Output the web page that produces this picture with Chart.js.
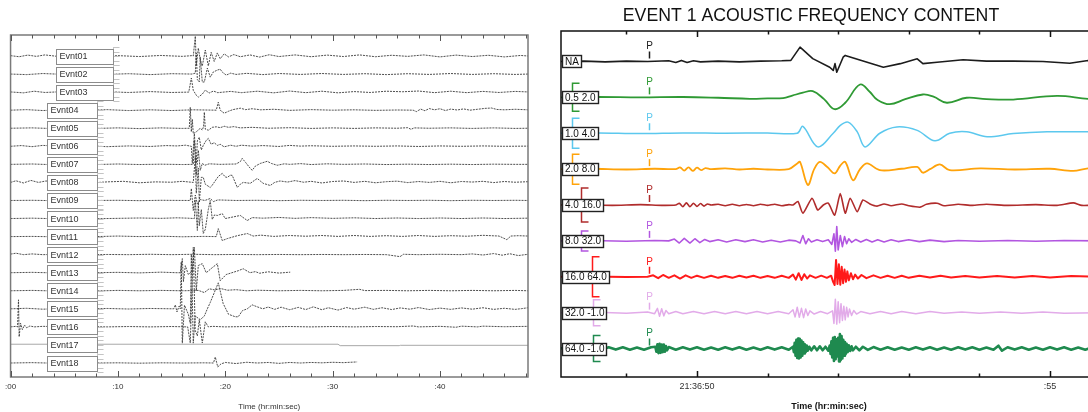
<!DOCTYPE html>
<html>
<head>
<meta charset="utf-8">
<script src="https://cdn.jsdelivr.net/npm/chart.js@4"></script>
<style>
html,body{margin:0;padding:0;background:#fff;overflow:hidden;width:1088px;height:412px;}
canvas{position:absolute;top:0;}
#c1{left:0;width:540px;height:412px;}
#c2{left:525px;width:572px;height:412px;}
</style>
</head>
<body>
<canvas id="c1" width="540" height="412"></canvas>
<canvas id="c2" width="572" height="412"></canvas>
<script>
// ---------------- LEFT PANEL DATA (time in s, amplitude: 10 = one trace spacing) ----------------
const leftNames = ['Evnt01','Evnt02','Evnt03','Evnt04','Evnt05','Evnt06','Evnt07','Evnt08','Evnt09','Evnt10','Evnt11','Evnt12','Evnt13','Evnt14','Evnt15','Evnt16','Evnt17','Evnt18'];
const leftTickValues = [0,10,20,30,40];
const leftTickText = [':00',':10',':20',':30',':40'];

const evnt01 = [[0,0.2],[0.8,-0.4],[1.6,0.5],[2.4,-0.2],[3.2,0.6],[4.5,-0.3],[6,0.3],[8,-0.4],[10,0.2],[12,-0.3],[14,0.3],[16,-0.2],[16.9,0.2],[17.02,0],[17.21,11],[17.3,-5.5],[17.49,4.4],[17.67,-2],[17.86,-5.5],[18.14,3.3],[18.42,-5.5],[18.69,2],[18.97,-3],[19.26,1.7],[19.53,-1.5],[19.9,1.2],[20.3,-0.5],[20.8,0.8],[21.4,-0.4],[22.3,0.6],[23.2,-0.6],[24.1,0.7],[25,-0.3],[26.5,0.6],[28,-0.4],[29.5,0.5],[31,-0.3],[32.5,0.6],[34,-0.4],[35.5,0.4],[37,-0.2],[38.5,0.6],[40,-0.5],[41.5,0.5],[43,-0.3],[44.5,0.4],[46,-0.5],[47.5,0.3],[48.2,0]];
const evnt02 = [[0,0],[1.5,-0.3],[3,0.3],[5,-0.2],[7,0.3],[9,-0.2],[11,0.2],[13,-0.3],[15,0.2],[16.9,0],[17.21,0.5],[17.3,11.6],[17.4,-3],[17.58,-4.4],[17.67,9.4],[17.86,-4.4],[18.05,-4.4],[18.33,3.3],[18.6,-1.7],[18.88,1.1],[19.26,2.2],[19.53,2.7],[19.72,1.1],[20.09,-0.6],[20.5,0.5],[21,-0.2],[22,0.4],[23.5,-0.3],[25,0.3],[27,-0.2],[29,0.3],[31,-0.2],[33,0.2],[35,-0.3],[37,0.2],[39,-0.2],[41,0.3],[43,-0.2],[45,0.2],[47,-0.2],[48.2,0]];
const evnt03 = [[0,0.1],[1.2,-0.4],[2.2,0.5],[3.2,-0.2],[5,0.3],[7,-0.3],[9,0.2],[11,-0.2],[13,0.3],[15,-0.2],[16.6,0],[16.84,7.8],[17.02,1],[17.3,-1.7],[17.49,-2.8],[17.86,-1.1],[18.14,1.1],[18.5,-0.5],[18.9,0.6],[19.3,-0.3],[20.5,0.4],[21.5,-0.3],[23,0.5],[24.5,-0.4],[26,0.6],[27.5,-0.3],[29,0.5],[30.5,-0.4],[32,0.3],[33.5,-0.2],[35,0.5],[36.5,0.2],[38,0.6],[39.5,-0.3],[41,0.5],[42.5,-0.3],[44,0.4],[45.5,-0.2],[47,0.4],[48.2,0.1]];
const evnt04 = [[0,0],[1.5,0.3],[3,-0.2],[5,0.2],[7,-0.2],[9,0.3],[11,-0.2],[13,0.2],[15,-0.2],[17,0.2],[19.16,0],[19.35,4.4],[19.53,0],[19.9,-1.7],[20.3,-0.6],[20.7,0.3],[21.4,1.1],[21.9,0.3],[22.5,0.8],[23.3,0.2],[24.5,0.5],[26,-0.1],[28,0.3],[30,0],[32,0.2],[34,-0.1],[36,0.1],[37.5,0],[37.8,-0.8],[38.2,0.6],[38.6,-0.3],[39,0.9],[39.5,0.2],[40,0.8],[40.5,-0.2],[41,0.6],[41.6,0.1],[42.2,0.7],[42.8,0],[43.5,0.5],[44.2,1.0],[44.8,1.2],[45.3,0.4],[46,0.2],[47,0.5],[48.2,0.2]];
const evnt05 = [[0,0],[2,0.2],[4,-0.2],[6,0.2],[8,-0.1],[10,0.2],[12,-0.2],[14,0.2],[16,-0.1],[16.65,0],[16.74,11.6],[16.84,-2],[16.93,5],[17.02,-3],[17.3,-2],[17.67,0],[17.86,-1],[17.98,1],[18.05,8.9],[18.14,-0.5],[18.42,-1.1],[18.79,0.5],[19.16,0.8],[19.53,0.3],[19.9,1.1],[20.3,0.5],[20.8,0.9],[21.4,0.2],[22.5,0.5],[24,0],[26,0.3],[28,-0.1],[30,0.2],[32,-0.1],[34,0.2],[36,0],[37,0.3],[37.3,-0.6],[37.6,0.2],[39,0],[41,0.2],[43,-0.1],[45,0.2],[47,-0.1],[48.2,0]];
const evnt06 = [[0,0],[1,0.4],[2,-0.2],[3,0.5],[5,-0.2],[7,0.3],[9,-0.2],[11,0.2],[13,-0.1],[14.5,0.4],[15.5,0.2],[16.3,0.6],[16.84,0],[16.93,-9.4],[17.12,7],[17.3,-9.4],[17.4,3],[17.58,5],[17.77,-2],[17.95,0.5],[18.23,3.3],[18.42,4.4],[18.69,1.1],[18.97,2],[19.26,0.5],[19.53,1.1],[19.9,-0.3],[20.5,0.6],[21,0],[21.5,0.6],[22.5,0.1],[23.5,0.4],[25,-0.1],[26,0.5],[27,0.1],[28,0.3],[30,0],[32,0.2],[34,0],[36,0.2],[38,-0.1],[40,0.2],[42,0],[44,0.2],[46,0],[48.2,0.1]];
const evnt07 = [[0,0],[2,0.2],[4,-0.2],[6,0.1],[8,-0.1],[10,0.2],[12,-0.1],[14,0.1],[16,-0.1],[17.02,0],[17.12,13.3],[17.3,-6],[17.49,7.8],[17.67,-3.3],[17.86,0.5],[18.1,-0.5],[18.5,0.3],[19.5,0],[21,0.2],[21.4,1.5],[21.58,3.3],[21.9,1],[22.3,-2],[22.51,-3.3],[22.8,-1],[23.26,0.5],[23.91,1.7],[24.3,0.5],[24.84,-0.5],[25.5,0.3],[26,0],[27,0.4],[28,-0.1],[29.5,0.3],[31,0],[33,0.2],[35,-0.1],[37,0.1],[39,-0.1],[41,0.1],[43,-0.1],[45,0.1],[47,0],[48.2,0]];
const evnt08 = [[0,0],[0.5,0.9],[1.2,-0.3],[1.9,1.1],[2.6,0],[3.3,0.8],[4.5,-0.2],[6,0.4],[7.5,-0.3],[9,0.3],[10.5,0.6],[12,-0.2],[13.5,0.3],[15,0.1],[16,0.6],[17.02,0],[17.21,14],[17.3,-6],[17.49,8],[17.58,-11],[17.77,2.8],[17.95,2.8],[18.14,-1],[18.6,-2.8],[18.79,-1.5],[19.35,3.3],[19.72,5],[20,3],[20.19,2.8],[20.47,4],[20.65,3.9],[21.12,-2.8],[21.4,-1],[21.67,0],[22.33,-0.5],[22.98,2.2],[23.3,0.6],[23.53,-0.5],[24.19,-1.7],[24.6,0],[25.1,0.8],[25.8,0.2],[26.5,1.0],[27.3,0.1],[28,0.6],[29,-0.3],[30,0.5],[31,0.8],[32,0],[33,0.6],[34,-0.2],[35,0.4],[36,0.7],[37,-0.1],[38,0.5],[39,0],[40,0.6],[41,-0.2],[42,0.5],[43,0.2],[44,0.6],[45,-0.1],[46,0.5],[47,0.1],[48.2,0.4]];
const evnt09 = [[0,0],[2,0.1],[4,-0.1],[6,0.1],[8,0],[10,0.1],[12,-0.1],[14,0.1],[16.5,0],[16.74,0],[16.84,6.6],[17.02,-5.5],[17.21,3],[17.4,-2],[17.67,0.5],[18.1,0],[18.6,1.1],[18.9,-0.6],[19.3,0.3],[21,0],[23,0.1],[25,-0.1],[27,0.1],[29,0],[31,0.1],[33,-0.1],[35,0.1],[37,0],[39,0.1],[41,-0.1],[43,0.1],[45,0],[47,0.1],[48.2,0]];
const evnt10 = [[0,0],[2,0.2],[4,-0.1],[6,0.2],[8,-0.1],[10,0.1],[12,0.3],[14,0.1],[15.5,0.4],[16.5,0.2],[17.12,0],[17.21,10],[17.4,-6.6],[17.49,9],[17.58,-4],[17.77,5],[17.95,-8.3],[18.14,-6],[18.42,5],[18.6,10],[18.79,-0.5],[19.0,2],[19.26,1.7],[19.72,2.7],[20,0],[20.5,0.6],[21.4,1.7],[22.05,-1.1],[22.5,0.5],[23.5,0.2],[25,0.6],[26.5,0.1],[28,0.5],[30,0.1],[32,0.4],[34,0],[36,0.3],[38,0],[40,0.3],[42,0],[44,0.3],[46,0],[48.2,0.2]];
const evnt11 = [[0,0],[2,0.1],[4,-0.1],[6,0.1],[8,0],[10,0.3],[12,0],[14,0.2],[16,-0.1],[18,0.1],[19.16,0],[19.35,4.4],[19.72,-2.2],[20.19,-1.1],[21.12,0.5],[22.05,1.7],[22.6,0.3],[23.3,0.8],[24.5,0.1],[26,0.6],[27.5,0.2],[29,0.6],[30.5,0.1],[32,0.6],[33.5,0.1],[35,0.5],[36.5,0.1],[38,0.6],[39.5,0.1],[41,0.5],[42.5,0.2],[44,0.7],[45.5,0.3],[46.23,-1.7],[46.6,0.3],[47.3,0.5],[48.2,0.3]];
const evnt12 = [[0,0.3],[0.5,0.8],[1.2,0],[2,0.4],[3,0],[5,0.2],[7,-0.1],[9,0.1],[11,0],[13,0.2],[15,0],[17,0.2],[19,0],[21,0.1],[23,0],[25,0.1],[27,0],[29,0.1],[31,0],[33,0.1],[35,0],[36.28,-1.1],[36.6,0.2],[38,0],[40,0.2],[42,0],[43,0.4],[44,-0.2],[45,0.6],[45.8,-0.3],[46.5,0.5],[47.3,-0.5],[48.2,0.2]];
const evnt13 = [[0,0],[2,0.2],[4,-0.1],[6,0.2],[8,0],[10,0.2],[12,-0.1],[14,0.3],[15.5,0],[15.81,0],[16.0,7.8],[16.1,-5],[16.28,3.9],[16.56,-1],[16.93,1],[17.12,14],[17.3,-10],[17.49,4],[17.86,5],[18.23,0],[18.79,2.8],[19.26,5],[19.53,-4.4],[20.09,-1],[21.21,1.1],[21.67,2.2],[22.3,0],[22.8,0.6],[23.2,-0.3],[24,0.5],[25,-0.2],[26.05,0.3]];
const evnt14 = [[0,0],[2,0.2],[4,-0.1],[6,0.1],[8,-0.1],[10,0.2],[12,0],[14,0.2],[16,0],[17.5,0.2],[18.05,-1],[18.5,1.1],[19,0.5],[19.6,1.2],[20.2,0.3],[21,0.6],[22,0],[23,0.3],[25,0],[27,0.2],[29,0],[31,0.2],[32.5,0.8],[33,0.1],[35,0.2],[37,0],[39,0.2],[41,0],[43,0.2],[45,0],[47,0.2],[48.2,0]];
const evnt15 = [[0,0],[1.5,0.3],[3,-0.2],[5,0.2],[7,-0.1],[9,0.2],[11,-0.1],[13,0.2],[15.2,0],[15.35,2.2],[15.5,-1.7],[15.7,1.5],[15.81,0],[15.9,26],[16.0,-19],[16.2,2],[16.56,-3],[16.74,-8],[16.84,30],[17.02,-19],[17.2,-4],[17.67,-6],[18.05,-4],[18.33,0],[18.6,3.5],[19.35,14.4],[19.8,3],[20.3,-3],[20.93,-4.4],[21.21,-4.4],[21.6,-1],[22.05,0],[22.5,2.2],[22.98,1.1],[23.5,0],[24,1],[24.6,-0.3],[25.2,0.9],[26,-0.5],[26.8,0.8],[27.5,-0.4],[28.2,1.1],[29,-0.5],[29.6,0.6],[30.5,-0.7],[31.3,0.7],[32,-0.2],[33,0.9],[33.8,-0.3],[34.6,0.6],[35.5,-0.4],[36.3,0.5],[37.2,-0.2],[38,0.7],[39,-0.4],[40,0.4],[41,-0.3],[42,0.5],[43,-0.2],[44,0.6],[45,-0.3],[46,0.3],[47,-0.3],[47.6,0.1],[48.2,0.6]];
const evnt16 = [[0,0],[0.5,0.3],[0.65,0],[0.74,15],[0.8,-5.5],[0.93,2],[1.1,-1.5],[1.3,1],[1.5,-0.5],[1.8,0.5],[2.2,0],[3,0.3],[5,0],[7,0.2],[9,0],[11,0.2],[13,0],[15,0.2],[16.5,0],[16.74,-8.9],[17.02,44],[17.2,-2],[17.4,-5],[17.58,4],[17.86,-8.9],[18.14,2.8],[18.42,0],[18.8,0.3],[20,0],[22,0.2],[24,0],[26,0.2],[28,0],[30,0.2],[32,0],[34,0.2],[36,0.1],[37.5,0.5],[38,0],[40,0.3],[41.5,-0.2],[42,0.4],[43.5,0],[44,0.4],[46,0.1],[48.2,0.3]];
const evnt17 = [[0,0.4],[30.5,0.4],[30.7,-0.4],[36.2,-0.4],[36.3,-0.2],[48.2,-0.2]];
const evnt18 = [[0,0],[2,0.2],[4,-0.1],[6,0.1],[8,0],[10,0.1],[12,-0.1],[14,0.1],[16,0],[18,0.1],[18.9,0],[19.07,3.3],[19.3,-2.2],[19.6,-0.5],[20,0.3],[21,-0.3],[22,0.4],[23,0],[24,0.3],[25,-0.2],[26,0.3],[27,0],[28,0.3],[29,0.1],[30,0.4],[31,0.2],[32.28,0.6]];

// ---------------- RIGHT PANEL DATA ----------------
const rightLabels = ['NA','0.5 2.0','1.0 4.0','2.0 8.0','4.0 16.0','8.0 32.0','16.0 64.0','32.0 -1.0','64.0 -1.0'];
const rightTickValues = [50,55];
const rightTickText = ['21:36:50',':55'];
const pickTime = 49.32;

const bandNA = [[48.07,0],[48.4,0.1],[48.7,-0.1],[49.0,0.1],[49.3,0],[49.6,0.2],[49.7,-0.3],[49.78,0.3],[49.86,-0.3],[49.95,0.2],[50.05,-0.1],[50.3,0.1],[50.6,-0.1],[50.9,0.1],[51.2,0.2],[51.33,0.3],[51.46,4.0],[51.64,0.8],[51.88,-1.6],[51.93,-2.5],[51.955,-0.6],[51.98,-3.0],[52.07,1.2],[52.1,1.7],[52.41,-0.2],[52.64,-1.6],[52.88,-0.6],[53.12,0.75],[53.2,-0.6],[53.4,-0.2],[53.77,0.5],[54.1,0.1],[54.48,0.1],[54.9,0],[55.28,-0.5],[55.54,0.3],[55.67,0.2]];
const band05 = [[48.07,0],[48.6,0.1],[49.2,0],[49.8,0.1],[50.3,-0.1],[50.75,-0.4],[51.0,-0.3],[51.22,-0.2],[51.35,0.5],[51.5,1.3],[51.64,1.75],[51.8,-0.5],[51.95,-3.3],[52.1,-1.5],[52.31,3.6],[52.45,1.5],[52.55,-0.6],[52.73,-1.9],[52.95,-0.5],[53.2,0.8],[53.35,0.2],[53.54,-1.5],[53.82,-0.1],[54.1,-0.5],[54.48,-0.6],[55.1,0.4],[55.54,-0.4],[55.67,-0.3]];
const band10 = [[48.07,0],[48.6,0.1],[49.2,-0.1],[49.8,0.1],[50.4,0],[51.0,0.1],[51.42,0],[51.5,1.9],[51.71,-3.8],[51.93,0],[52.03,2.2],[52.14,3.1],[52.27,0.4],[52.38,-3.8],[52.59,0],[52.83,1.75],[53.12,0.8],[53.37,-2.1],[53.58,0],[53.82,0.4],[54.11,-1.0],[54.48,-0.1],[54.96,0.4],[55.54,0.4],[55.67,0.3]];
const band20 = [[48.07,0],[48.5,0.1],[49.0,-0.1],[49.4,0.1],[49.7,0],[49.76,0.5],[49.82,-0.4],[49.88,0.5],[49.94,-0.5],[50.0,0.4],[50.06,-0.3],[50.12,0.3],[50.2,0],[50.4,0.2],[50.6,-0.1],[50.8,0.1],[51.0,-0.1],[51.3,0],[51.42,1.6],[51.46,2.0],[51.57,-4.4],[51.66,0],[51.74,2.0],[51.85,0.5],[51.95,-1.2],[52.03,1.0],[52.1,2.0],[52.21,-3.1],[52.31,0],[52.41,1.6],[52.59,-0.3],[52.9,0.1],[53.12,0.6],[53.2,-1.0],[53.3,0],[53.44,1.3],[53.58,-0.3],[54.01,0.2],[54.5,-0.1],[55.0,0.1],[55.33,-0.5],[55.54,0.2],[55.67,0]];
const band40 = [[48.07,0],[48.4,0.1],[48.8,-0.1],[49.2,0.1],[49.5,-0.1],[49.7,0],[49.75,0.5],[49.8,-0.5],[49.85,0.6],[49.9,-0.5],[49.95,0.5],[50.0,-0.4],[50.05,0.4],[50.1,-0.3],[50.15,0.3],[50.2,0],[50.3,0.2],[50.4,-0.2],[50.5,0.2],[50.6,-0.2],[50.7,0.15],[50.8,-0.2],[50.9,0.2],[51.0,-0.1],[51.1,0.2],[51.2,-0.2],[51.3,0.1],[51.36,0],[51.43,1.0],[51.5,-2.3],[51.63,1.9],[51.71,-1.4],[51.79,0],[51.86,0.5],[51.95,-2.8],[52.03,3.2],[52.1,-2.3],[52.17,1.9],[52.27,-1.9],[52.35,1.4],[52.45,0.3],[52.55,-0.3],[52.65,0.3],[52.75,-0.2],[52.9,0.3],[53.0,-0.2],[53.16,-0.6],[53.25,0.2],[53.4,0.5],[53.5,-0.2],[53.7,0.2],[53.9,-0.1],[54.1,0.2],[54.4,-0.1],[54.8,0.1],[55.1,-0.1],[55.33,0.6],[55.45,-0.1],[55.67,0]];
const band80 = [[48.07,0],[48.5,0.1],[49.0,-0.1],[49.4,0.1],[49.6,0],[49.68,0.5],[49.75,-0.6],[49.82,0.7],[49.9,-0.6],[49.97,0.6],[50.04,-0.5],[50.11,0.4],[50.18,-0.2],[50.3,0.3],[50.42,-0.3],[50.55,0.3],[50.68,-0.2],[50.8,0.3],[50.93,-0.3],[51.05,0.2],[51.18,-0.3],[51.3,0.2],[51.4,0],[51.46,-0.6],[51.5,1.5],[51.54,-0.8],[51.58,0.6],[51.62,-0.3],[51.7,0.3],[51.78,-0.2],[51.86,0.3],[51.91,-1.0],[51.94,2.0],[51.96,-2.9],[51.98,4.0],[52.0,-2.5],[52.03,1.5],[52.06,-1.6],[52.09,1.2],[52.12,-0.8],[52.15,0.6],[52.19,-0.4],[52.25,0.4],[52.32,-0.3],[52.4,0.4],[52.48,-0.3],[52.56,0.3],[52.65,-0.3],[52.75,0.3],[52.85,-0.2],[53.0,0.3],[53.15,-0.2],[53.3,0.2],[53.5,-0.2],[53.7,0.1],[54.0,-0.1],[54.4,0.1],[54.8,-0.1],[55.2,0.1],[55.67,0]];
const band160 = [[48.07,0],[48.5,0.1],[49.0,-0.1],[49.3,0],[49.38,0.4],[49.45,-0.4],[49.52,0.5],[49.6,-0.3],[49.68,0.4],[49.76,-0.5],[49.84,0.4],[49.92,-0.3],[50.0,0.3],[50.1,-0.3],[50.2,0.3],[50.3,-0.3],[50.4,0.2],[50.5,-0.3],[50.6,0.3],[50.7,-0.2],[50.8,0.3],[50.9,-0.3],[51.0,0.2],[51.1,-0.3],[51.2,0.3],[51.3,-0.3],[51.36,0.6],[51.4,-0.8],[51.44,1.0],[51.48,-0.9],[51.52,0.7],[51.56,-0.5],[51.6,0.4],[51.68,-0.3],[51.76,0.3],[51.84,-0.3],[51.9,0.3],[51.93,-1.5],[51.95,-2.3],[51.97,4.7],[51.99,-2.0],[52.01,3.5],[52.03,-2.2],[52.05,2.8],[52.07,-1.8],[52.09,2.0],[52.11,-1.4],[52.13,1.5],[52.15,-1.0],[52.18,1.0],[52.21,-0.7],[52.24,0.6],[52.28,-0.5],[52.33,0.5],[52.4,-0.4],[52.5,0.4],[52.6,-0.3],[52.7,0.3],[52.8,-0.3],[52.9,0.3],[53.0,-0.3],[53.15,0.3],[53.3,-0.2],[53.45,0.3],[53.6,-0.2],[53.8,0.2],[54.0,-0.2],[54.25,0.2],[54.5,-0.2],[54.75,0.2],[55.0,-0.2],[55.3,0.2],[55.67,0]];
const band320 = [[48.07,0],[48.5,0.2],[49.0,-0.2],[49.3,0.2],[49.4,-0.3],[49.44,1.2],[49.47,-1.0],[49.5,1.1],[49.53,-0.9],[49.56,0.6],[49.6,-0.3],[49.7,0.3],[49.8,-0.3],[49.95,0.3],[50.1,-0.3],[50.25,0.3],[50.4,-0.3],[50.55,0.3],[50.7,-0.3],[50.85,0.3],[51.0,-0.3],[51.15,0.3],[51.3,-0.3],[51.36,0.8],[51.39,-1.2],[51.42,1.5],[51.45,-1.3],[51.48,1.2],[51.51,-1.4],[51.54,1.0],[51.57,-0.8],[51.6,0.5],[51.66,-0.4],[51.75,0.3],[51.85,-0.3],[51.92,0.5],[51.94,-3.0],[51.96,3.7],[51.98,-3.2],[52.0,3.0],[52.02,-2.8],[52.04,2.5],[52.06,-2.2],[52.08,1.8],[52.1,-2.0],[52.12,1.5],[52.14,-1.2],[52.16,1.0],[52.19,-0.8],[52.22,0.6],[52.26,-0.4],[52.32,0.3],[52.45,-0.3],[52.6,0.3],[52.75,-0.3],[52.9,0.3],[53.1,-0.3],[53.3,0.3],[53.5,-0.2],[53.75,0.2],[54.0,-0.2],[54.3,0.2],[54.6,-0.2],[54.9,0.2],[55.2,-0.2],[55.67,0]];
const band640 = [[48.07,0],[48.15,0.35],[48.25,-0.3],[48.35,0.35],[48.45,-0.35],[48.55,0.3],[48.65,-0.35],[48.75,0.35],[48.85,-0.3],[48.95,0.35],[49.05,-0.35],[49.15,0.3],[49.25,-0.35],[49.35,0.35],[49.41,0.5],[49.425,-0.9],[49.44,1.2],[49.455,-1.3],[49.47,1.3],[49.485,-1.2],[49.5,1.1],[49.515,-1.0],[49.53,1.1],[49.545,-0.9],[49.56,0.7],[49.575,-0.5],[49.6,0.4],[49.7,-0.35],[49.8,0.35],[49.9,-0.3],[50.0,0.35],[50.1,-0.35],[50.2,0.3],[50.3,-0.35],[50.4,0.35],[50.5,-0.3],[50.6,0.35],[50.7,-0.35],[50.8,0.3],[50.9,-0.35],[51.0,0.35],[51.1,-0.3],[51.2,0.35],[51.3,-0.35],[51.36,0.5],[51.372,-1.0],[51.384,1.6],[51.396,-2.0],[51.408,2.4],[51.42,-2.6],[51.432,2.8],[51.444,-2.8],[51.456,2.7],[51.468,-2.5],[51.48,2.2],[51.492,-2.0],[51.504,1.7],[51.516,-1.4],[51.528,1.2],[51.54,-1.0],[51.555,0.8],[51.57,-0.6],[51.59,0.5],[51.62,-0.5],[51.66,0.6],[51.7,-0.5],[51.74,0.6],[51.78,-0.5],[51.82,0.5],[51.86,-0.6],[51.88,0.8],[51.892,-1.5],[51.904,2.0],[51.916,-2.5],[51.928,3.0],[51.94,-3.5],[51.952,3.2],[51.964,-3.0],[51.976,2.6],[51.988,-2.2],[52.0,3.0],[52.012,-3.6],[52.024,4.0],[52.036,-3.2],[52.048,3.5],[52.06,-2.8],[52.072,2.4],[52.084,-2.0],[52.096,1.8],[52.108,-1.5],[52.12,1.3],[52.135,-1.0],[52.15,0.9],[52.17,-0.7],[52.19,0.6],[52.21,-0.5],[52.25,0.5],[52.3,-0.5],[52.35,0.5],[52.42,-0.4],[52.5,0.4],[52.6,-0.35],[52.7,0.35],[52.8,-0.35],[52.9,0.3],[53.0,-0.35],[53.1,0.35],[53.2,-0.3],[53.3,0.35],[53.4,-0.35],[53.5,0.3],[53.6,-0.35],[53.7,0.35],[53.8,-0.3],[53.9,0.35],[54.0,-0.35],[54.1,0.3],[54.2,-0.35],[54.27,0.8],[54.32,-0.6],[54.4,0.35],[54.5,-0.3],[54.6,0.35],[54.7,-0.35],[54.8,0.3],[54.9,-0.35],[55.0,0.35],[55.1,-0.3],[55.2,0.35],[55.3,-0.35],[55.4,0.3],[55.5,-0.35],[55.6,0.35],[55.67,0]];

// ---------------- assembly & styles ----------------
const leftTraces = [evnt01,evnt02,evnt03,evnt04,evnt05,evnt06,evnt07,evnt08,evnt09,evnt10,evnt11,evnt12,evnt13,evnt14,evnt15,evnt16,evnt17,evnt18];
const rightTraces = [bandNA,band05,band10,band20,band40,band80,band160,band320,band640];
const leftOffsets = leftTraces.map((_, k) => (leftTraces.length - 1 - k) * 10);
const rightOffsets = rightTraces.map((_, k) => (rightTraces.length - 1 - k) * 10);

const rightColors = ['#1c1c1c','#2f9a34','#5cc8ee','#ffa30a','#b02c2c','#b256e0','#ff1a1a','#e2abe9','#1f8a4f'];
const rightWidths = [1.6,1.8,1.5,1.8,1.6,1.6,2.0,1.5,2.6];
const rightTension = [0,0.4,0.35,0.35,0.2,0,0,0,0];
const bracketStyle = [null,[11,14],[11,15],[11,15],[20,17],[20,10],[31,20],[32,13],[32,13]];

const FONT = '"Liberation Sans", Arial, Helvetica, sans-serif';
Chart.defaults.font.family = FONT;

function framePlugin(o) {
  return {
    id: 'frame_' + o.key,
    afterDraw(chart) {
      const {ctx, chartArea: a, scales: {x}} = chart;
      ctx.save();
      ctx.strokeStyle = o.frameColor; ctx.lineWidth = o.frameWidth;
      ctx.strokeRect(a.left, a.top, a.right - a.left, a.bottom - a.top);
      ctx.strokeStyle = o.tickColor; ctx.lineWidth = o.tickWidth;
      ctx.beginPath();
      x.ticks.forEach(t => {
        const px = Math.round(x.getPixelForValue(t.value)) + 0.5;
        const len = o.major.includes(t.value) ? o.majorLen : o.minorLen;
        ctx.moveTo(px, a.top); ctx.lineTo(px, a.top + len);
        ctx.moveTo(px, a.bottom); ctx.lineTo(px, a.bottom - len);
      });
      ctx.stroke();
      ctx.restore();
    }
  };
}

const leftLabelPlugin = {
  id: 'leftLabels',
  afterDatasetsDraw(chart) {
    const {ctx, chartArea: a, scales: {y}} = chart;
    ctx.save();
    ctx.font = '9px ' + FONT;
    ctx.textBaseline = 'middle';
    ctx.textAlign = 'left';
    leftNames.forEach((name, k) => {
      const py = y.getPixelForValue(leftOffsets[k]);
      const wide = k < 3;
      const bx = a.left + (wide ? 45 : 36), bw = wide ? 57 : 50, bh = 15;
      const sx = Math.round(bx + bw) + 0.5;
      ctx.strokeStyle = '#c4c4c4'; ctx.lineWidth = 1;
      ctx.beginPath();
      ctx.moveTo(sx, py - 9); ctx.lineTo(sx, py + 9);
      [-9, -4.5, 0, 4.5, 9].forEach(d => {
        const yy = Math.round(py + d) + 0.5;
        ctx.moveTo(sx, yy); ctx.lineTo(sx + 6, yy);
      });
      ctx.stroke();
      const by = Math.round(py - bh / 2) + 0.5;
      ctx.fillStyle = '#fff';
      ctx.fillRect(Math.round(bx) + 0.5, by, bw, bh);
      ctx.strokeStyle = '#8c8c8c';
      ctx.strokeRect(Math.round(bx) + 0.5, by, bw, bh);
      ctx.fillStyle = '#333';
      ctx.fillText(name, bx + 4, py + 0.5);
    });
    ctx.restore();
  }
};

const rightLabelPlugin = {
  id: 'rightLabels',
  beforeDatasetsDraw(chart) {
    const {ctx, chartArea: a, scales: {y}} = chart;
    ctx.save();
    ctx.lineWidth = 1.5;
    rightLabels.forEach((lab, k) => {
      const b = bracketStyle[k];
      if (!b) return;
      const py = y.getPixelForValue(rightOffsets[k]);
      const bx = Math.round(a.left + b[0]) + 0.5;
      ctx.strokeStyle = rightColors[k];
      ctx.beginPath();
      ctx.moveTo(bx + 7, py - b[1]); ctx.lineTo(bx, py - b[1]);
      ctx.lineTo(bx, py + b[1]); ctx.lineTo(bx + 7, py + b[1]);
      ctx.stroke();
    });
    ctx.restore();
  },
  afterDatasetsDraw(chart) {
    const {ctx, chartArea: a, scales: {x, y}} = chart;
    ctx.save();
    const pxP = Math.round(x.getPixelForValue(pickTime)) + 0.5;
    rightLabels.forEach((lab, k) => {
      const py = y.getPixelForValue(rightOffsets[k]);
      ctx.fillStyle = rightColors[k];
      ctx.strokeStyle = rightColors[k];
      ctx.font = '10px ' + FONT;
      ctx.textAlign = 'center'; ctx.textBaseline = 'middle';
      ctx.fillText('P', pxP, py - 15);
      ctx.lineWidth = 1.5;
      ctx.beginPath(); ctx.moveTo(pxP, py - 10); ctx.lineTo(pxP, py - 3); ctx.stroke();
      ctx.textAlign = 'left';
      const w = Math.round(ctx.measureText(lab).width + 5);
      const bx = Math.round(a.left + 1) + 0.5, bh = 12;
      const by = Math.round(py - bh / 2) + 0.5;
      ctx.fillStyle = '#fff';
      ctx.fillRect(bx, by, w, bh);
      ctx.strokeStyle = '#222'; ctx.lineWidth = 1.4;
      ctx.strokeRect(bx, by, w, bh);
      ctx.fillStyle = '#111';
      ctx.fillText(lab, bx + 2.5, py + 0.5);
    });
    ctx.restore();
  }
};

// ---------------- LEFT CHART ----------------
new Chart(document.getElementById('c1'), {
  type: 'line',
  data: {
    datasets: leftTraces.map((tr, k) => ({
      data: tr.map(p => ({x: p[0], y: leftOffsets[k] + p[1]})),
      borderColor: k === 16 ? '#a8a8a8' : '#3a3a3a',
      borderWidth: k === 16 ? 1 : 0.9,
      borderDash: k === 16 ? [] : [2, 1],
      borderJoinStyle: 'round',
      pointRadius: 0,
      tension: 0,
      fill: false
    }))
  },
  options: {
    responsive: false,
    animation: false,
    events: [],
    layout: {padding: {top: 35, left: 0, right: 12, bottom: 0}},
    plugins: {legend: {display: false}, tooltip: {enabled: false}},
    scales: {
      x: {
        type: 'linear', min: 0, max: 48.2,
        grid: {display: false, drawTicks: false},
        border: {display: false},
        ticks: {
          stepSize: 2, includeBounds: false, autoSkip: false, maxRotation: 0,
          padding: 5, color: '#333', font: {size: 8},
          callback: v => { const i = leftTickValues.indexOf(v); return i >= 0 ? leftTickText[i] : ''; }
        },
        title: {display: true, text: 'Time (hr:min:sec)', color: '#333', font: {size: 8}, padding: {top: 0, bottom: 0}},
        afterFit: s => { s.height = 35; }
      },
      y: {
        type: 'linear', min: -7.75, max: 181.63,
        grid: {display: false, drawTicks: false},
        border: {display: false},
        ticks: {display: false},
        afterFit: s => { s.width = 10; }
      }
    }
  },
  plugins: [leftLabelPlugin, framePlugin({key: 'L', frameColor: '#7a7a7a', frameWidth: 1.5, tickColor: '#555', tickWidth: 1, major: leftTickValues, majorLen: 6, minorLen: 3.5})]
});

// ---------------- RIGHT CHART ----------------
new Chart(document.getElementById('c2'), {
  type: 'line',
  data: {
    datasets: rightTraces.map((tr, k) => ({
      data: tr.map(p => ({x: p[0], y: rightOffsets[k] + p[1]})),
      borderColor: rightColors[k],
      borderWidth: rightWidths[k],
      borderJoinStyle: 'round',
      pointRadius: 0,
      tension: rightTension[k],
      fill: false
    }))
  },
  options: {
    responsive: false,
    animation: false,
    events: [],
    layout: {padding: 0},
    plugins: {
      legend: {display: false}, tooltip: {enabled: false},
      title: {display: true, text: 'EVENT 1 ACOUSTIC FREQUENCY CONTENT', color: '#111', font: {size: 17.7, weight: 'normal'}, padding: {top: 5, bottom: 4.76}}
    },
    scales: {
      x: {
        type: 'linear', min: 48.074, max: 55.666,
        grid: {display: false, drawTicks: false},
        border: {display: false},
        ticks: {
          stepSize: 1, includeBounds: false, autoSkip: false, maxRotation: 0,
          padding: 4, color: '#333', font: {size: 9},
          callback: v => { const i = rightTickValues.indexOf(v); return i >= 0 ? rightTickText[i] : ''; }
        },
        title: {display: true, text: 'Time (hr:min:sec)', color: '#111', font: {size: 9, weight: 'bold'}, padding: {top: 0, bottom: 0}},
        afterFit: s => { s.height = 35; }
      },
      y: {
        type: 'linear', min: -7.94, max: 88.5,
        grid: {display: false, drawTicks: false},
        border: {display: false},
        ticks: {display: false},
        afterFit: s => { s.width = 36; }
      }
    }
  },
  plugins: [rightLabelPlugin, framePlugin({key: 'R', frameColor: '#111', frameWidth: 1.5, tickColor: '#111', tickWidth: 1.5, major: rightTickValues, majorLen: 6, minorLen: 3.5})]
});
</script>
</body>
</html>
